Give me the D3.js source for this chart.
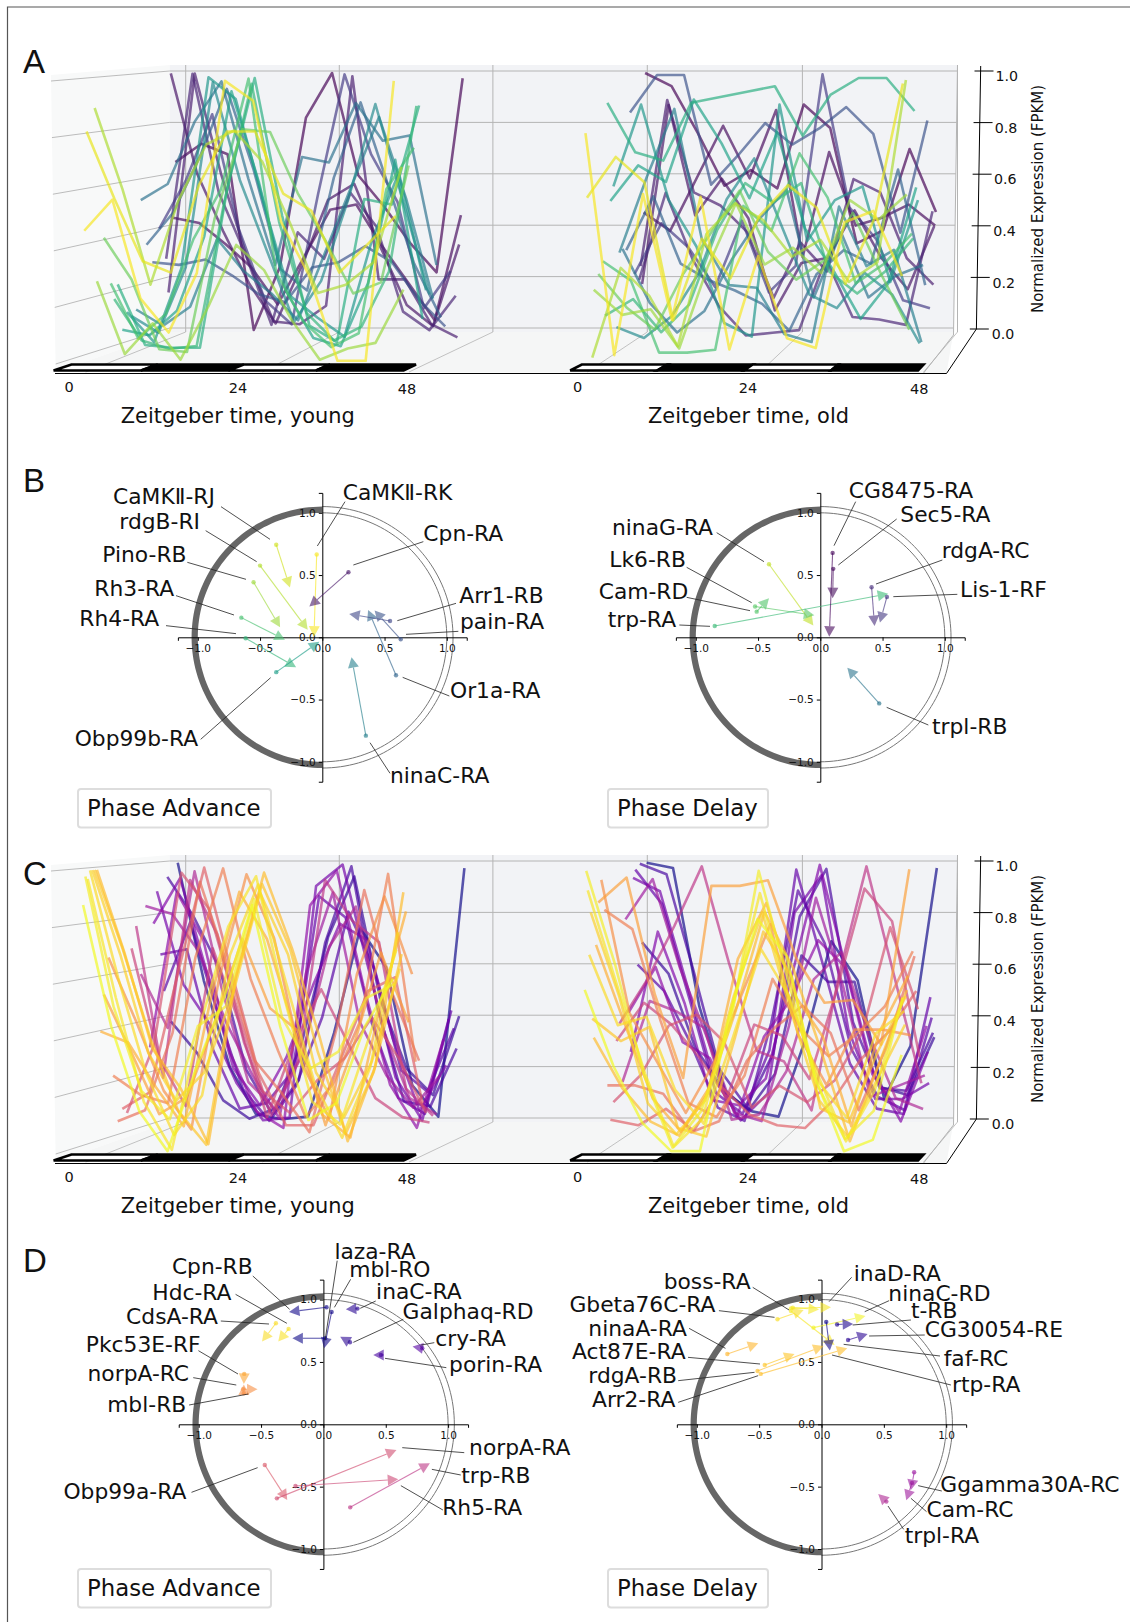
<!DOCTYPE html>
<html lang="en">
<head>
<meta charset="UTF-8">
<title>Phase shifts, young vs old</title>
<script src="https://cdnjs.cloudflare.com/ajax/libs/d3/7.8.5/d3.min.js"></script>
<style>
body { margin: 0; background: #fff; }
text { font-family: "DejaVu Sans", sans-serif; fill: #111; }
.letter { font-family: "Liberation Sans", sans-serif; font-size: 33px; }
</style>
</head>
<body>
<script>
// sampling times of the expression traces
var hours = [2, 6, 10, 14, 18, 22, 26, 30, 34, 38, 42, 46];
var zTicks = [0, 0.2, 0.4, 0.6, 0.8, 1.0];
var timeTicks = [0, 24, 48];
var schedule = [[0, 12, 1], [12, 24, 0], [24, 36, 1], [36, 48, 0]];
var polarTicks = [-1, -0.5, 0, 0.5, 1];

// panel A: gene position along the depth axis, then traces back to front
var depthA = [.80, .78, .76, .74, .72, .66, .60, .55, .50, .46, .42, .38, .34, .30, .27, .24, .18, .12, .10, .03, .01];
var youngA = [
  [.66, .73, .69, .02, .26, .83, 1.0, .61, .49, .35, .24, .98],
  [.45, .43, .35, .26, .12, .30, .48, .50, .34, .20, .06, .46],
  [1.0, .62, .40, .20, .05, .27, .52, .58, .34, .12, .04, .35],
  [.17, 1.0, .62, .30, .06, .05, .12, .99, .22, .22, .05, .0],
  [.30, 1.0, .55, .32, .05, .40, .30, .55, .42, .10, .03, .16],
  [.42, .60, .85, .42, .15, .06, .55, 1.0, .70, .52, .12, .26],
  [.30, .29, .31, .25, .18, .15, .28, .30, .36, .30, .16, .06],
  [.37, .49, .70, .95, .65, .28, .20, .62, .90, .60, .30, .10],
  [.54, .60, .83, .98, .62, .30, .70, .68, .90, .76, .78, .30],
  [.14, .08, .15, .40, .28, .20, .10, .35, .60, .85, .55, .18],
  [.12, .06, .30, .98, .62, .36, .10, .25, .55, .90, .55, .20],
  [.14, .03, .30, 1.0, .92, .55, .20, .12, .05, .40, .65, .22],
  [.08, .06, .15, .42, .95, .62, .22, .05, .02, .25, .70, .12],
  [.25, .03, .02, .02, .60, 1.0, .50, .10, .04, .56, .54, .90],
  [.20, .05, .02, .03, .55, .98, .48, .15, .05, .10, .30, .90],
  [.26, .06, .15, .42, .60, 1.0, .30, .12, .03, .08, .60, .75],
  [.43, .28, .03, .02, .50, .82, .81, .59, .42, .23, .27, .69],
  [.28, .02, .13, .0, .19, .41, .32, .14, .0, .04, .06, .25],
  [.90, .61, .27, .57, .77, .82, .71, .49, .24, .27, .35, .69],
  [.82, .58, .36, .32, .63, .82, .82, .60, .54, .32, .42, .52],
  [.47, .58, .23, .11, .32, 1.0, .93, .50, .31, .01, .01, 1.0]
];
var oldA = [
  [1.0, .95, .77, .57, .63, .56, .88, .79, .35, .40, .71, .47],
  [.47, .40, .60, .80, .60, .86, .30, .70, .42, .45, .50, .42],
  [.20, .88, .46, .60, .45, .10, .28, .30, .48, .30, .18, .42],
  [.27, .90, .55, .50, .40, .15, .36, .25, .60, .55, .30, .20],
  [.22, .55, .30, .12, .01, .02, .03, .30, .08, .07, .05, .48],
  [.25, .44, .35, .20, .45, .18, .28, 1.0, .50, .38, .15, .12],
  [.86, 1.0, 1.0, .59, .70, .82, .74, .80, .88, .78, .41, .83],
  [.35, .55, .30, .24, .20, .15, .05, .26, .35, .30, .65, .22],
  [.36, .16, .05, .13, .32, .47, .58, .18, .42, .18, .26, .30],
  [.35, .63, .88, .40, .23, .22, .05, .02, .52, .30, .36, .02],
  [.08, .04, .12, .28, .55, .70, .45, .20, .15, .28, .20, .02],
  [.60, .90, .55, .38, .10, .05, .90, .40, .55, .60, .25, .55],
  [.55, .68, .62, .92, .76, .56, .80, .45, .30, .12, .25, .60],
  [.91, .73, .70, .91, .93, .95, .97, .79, .94, 1.0, 1.0, .88],
  [.14, .20, .08, .18, .45, .62, .55, .62, .30, .22, .30, .42],
  [.34, .27, .01, .01, .02, .54, .45, .73, .57, .26, .33, .44],
  [.30, .18, .10, .30, .45, .60, .38, .28, .35, .52, .30, .10],
  [.25, .16, .18, .04, .33, .56, .34, .40, .31, .57, .50, .59],
  [.01, .33, .23, .05, .45, .56, .50, .37, .43, .28, .35, 1.0],
  [.585, .73, .64, .15, .44, .30, .52, .63, .55, .28, .51, .99],
  [.815, .03, .60, .155, .59, .05, .38, .09, .055, .50, .54, .31]
];

// panel C: strongly rhythmic genes, back to front
var depthC = [.82, .76, .73, .70, .67, .64, .61, .58, .54, .50, .46, .42, .38, .34, .30, .26, .22, .18, .15, .12, .10, .08, .06, .04, .02, .0];
var youngC = [
  [1.0, .55, .22, .04, .02, .03, .35, .75, .60, .15, .03, .98],
  [.40, .28, .10, .03, .07, .32, .72, .95, .48, .22, .12, .42],
  [.95, .80, .60, .22, .05, .18, .70, .99, .45, .10, .08, .30],
  [.52, .78, .45, .15, .03, .16, .42, .82, .60, .22, .14, .38],
  [.66, .68, .30, .08, .10, .22, .88, .80, .40, .12, .06, .45],
  [.90, .55, .40, .18, .04, .05, .92, 1.0, .60, .20, .04, .42],
  [.78, .95, .60, .24, .10, .28, .55, .78, .72, .35, .08, .25],
  [.32, .90, .72, .30, .08, .02, .85, .98, .55, .18, .02, .35],
  [.85, .82, .68, .42, .22, .06, .60, .90, .42, .22, .10, .22],
  [.60, .40, .98, .55, .20, .10, .30, .70, .85, .40, .14, .08],
  [.78, .22, .95, .75, .35, .08, .28, .95, .80, .72, .18, .08],
  [.70, .30, .12, .70, .42, .08, .35, .55, .35, .15, .08, .06],
  [.10, .35, .98, .85, .50, .18, .10, .22, .30, .45, .30, .10],
  [.12, .18, .60, 1.0, .62, .25, .06, .06, .30, .55, .60, .14],
  [.08, .12, .40, .95, .65, .30, .18, .04, .42, .92, .55, .30],
  [.25, .18, .15, .68, 1.0, .60, .34, .10, .22, .45, .98, .30],
  [.68, .45, .20, .06, .60, .98, .75, .30, .10, .62, .90, .62],
  [.55, .34, .12, .18, .45, .75, .50, .42, .08, .36, .70, .45],
  [.42, .38, .22, .08, .55, .92, .75, .42, .12, .04, .48, .85],
  [1.0, .70, .36, .22, .02, .62, .99, .72, .40, .03, .30, .92],
  [1.0, .72, .40, .14, .02, .60, .95, .72, .35, .06, .28, .70],
  [1.0, .70, .35, .18, .28, .55, .92, .70, .28, .12, .32, .65],
  [1.0, .62, .28, .06, .20, .70, .95, .60, .25, .05, .30, .78],
  [.97, .55, .18, .01, .45, .80, .98, .55, .18, .10, .40, .72],
  [.98, .52, .22, .12, .45, .52, .90, .48, .30, .36, .55, .60],
  [.88, .45, .15, .01, .30, .55, .88, .45, .12, .18, .45, .62]
];
var oldC = [
  [1.0, .98, .45, .12, .05, .03, .32, .70, .55, .10, .30, .98],
  [.70, .58, .30, .15, .06, .20, .65, .55, .55, .15, .12, .34],
  [1.0, .96, .60, .22, .08, .28, .80, .98, .40, .15, .14, .36],
  [.62, .52, .32, .08, .03, .40, .90, .70, .30, .12, .07, .42],
  [.98, .85, .50, .14, .06, .30, .98, .62, .25, .08, .06, .50],
  [.95, .90, .55, .20, .04, .14, .82, .96, .38, .12, .12, .18],
  [.30, .75, .48, .12, .10, .20, .60, 1.0, .60, .22, .04, .30],
  [.45, .62, .34, .28, .06, .36, .50, .72, .62, .22, .08, .40],
  [.80, .95, .62, .36, .08, .05, .40, .88, .55, .14, .18, .22],
  [.20, .50, .46, .40, .06, .08, .24, .58, .68, .38, .14, .10],
  [.42, .58, .78, 1.0, .64, .32, .28, .10, .60, 1.0, .60, .20],
  [.36, .50, .42, .30, .15, .42, .38, .22, .55, .92, .80, .30],
  [.14, .24, .42, .46, .36, .12, .20, .14, .22, .40, .78, .48],
  [.08, .06, .12, .04, .20, .10, .06, .05, .15, .30, .40, .55],
  [.21, .21, .18, .04, .08, .30, .42, .50, .40, .12, .35, .68],
  [.85, .78, .45, .15, .10, .25, .60, .42, .32, .40, .50, .70],
  [.96, .48, .30, .12, .30, .55, .80, .40, .22, .42, .42, .40],
  [.88, .97, .55, .25, .94, .94, .96, .68, .52, .53, .37, 1.0],
  [.73, .45, .18, .06, .22, .68, .88, .55, .40, .08, .42, .62],
  [.40, .22, .10, .05, .20, .50, .85, .65, .35, .03, .30, .57],
  [.47, .39, .44, .08, .05, .40, .78, .62, .15, .10, .35, .55],
  [.85, .55, .17, .06, .18, .55, .85, .50, .18, .05, .25, .45],
  [.70, .45, .48, .22, .10, .40, .72, .55, .25, .12, .42, .50],
  [.93, .60, .28, .02, .12, .50, .92, .55, .28, .04, .22, .55],
  [1.0, .67, .28, .02, .15, .45, 1.0, .62, .25, .05, .15, .55],
  [.58, .31, .11, .01, .01, .48, .83, .70, .27, .01, .05, .35]
];

// polar panels: gene, start x, start y, end x, end y
var arrowsBAdvance = [
  ["CaMKⅡ-RJ", -.37, .743, -.26, .40],
  ["CaMKⅡ-RK", -.045, .665, -.067, .005],
  ["rdgB-RI", -.50, .576, -.117, .06],
  ["Pino-RB", -.552, .442, -.339, .08],
  ["Rh3-RA", -.65, .158, -.30, -.02],
  ["Rh4-RA", -.616, -.008, -.21, -.24],
  ["Obp99b-RA", -.37, -.28, -.024, -.035],
  ["ninaC-RA", .35, -.79, .235, -.16],
  ["Or1a-RA", .592, -.305, .368, .22],
  ["pain-RA", .63, -.016, .42, .215],
  ["Arr1-RB", .544, .131, .216, .188],
  ["Cpn-RA", .21, .523, -.104, .247]
];
var arrowsBDelay = [
  ["ninaG-RA", -.412, .587, -.056, .094],
  ["Lk6-RB", -.511, .206, -.412, .314],
  ["Cam-RD", -.524, .247, -.048, .177],
  ["trp-RA", -.848, .091, .545, .349],
  ["trpl-RB", .473, -.531, .217, -.244],
  ["Lis-1-RF", .535, .324, .479, .118],
  ["rdgA-RC", .412, .402, .436, .091],
  ["Sec5-RA", .104, .55, .099, .314],
  ["CG8475-RA", .099, .678, .072, .005]
];
var arrowsDAdvance = [
  ["CdsA-RA", -.381, .81, -.492, .663],
  ["Hdc-RA", -.279, .765, -.362, .663],
  ["Pkc53E-RF", -.635, .404, -.638, .324],
  ["norpA-RC", -.638, .249, -.638, .32],
  ["mbl-RB", -.644, .281, -.528, .281],
  ["Obp99a-RA", -.47, -.326, -.29, -.607],
  ["Rh5-RA", -.224, -.495, .60, -.441],
  ["norpA-RA", -.373, -.594, .586, -.206],
  ["trp-RB", .215, -.666, .854, -.313],
  ["cry-RA", .793, .61, .715, .623],
  ["porin-RA", .461, .556, .40, .556],
  ["Galphaq-RD", .213, .658, .135, .703],
  ["inaC-RA", .273, .928, .18, .922],
  ["mbl-RO", .066, .901, .006, .61],
  ["laza-RA", .014, .69, -.249, .69],
  ["Cpn-RB", .025, .939, -.276, .901]
];
var arrowsDDelay = [
  ["inaD-RA", -.23, .936, -.02, .92],
  ["boss-RA", -.245, .93, .076, .939],
  ["ninaC-RD", -.064, .775, .353, .869],
  ["faf-RC", -.245, .909, .105, .636],
  ["Gbeta76C-RA", -.353, .842, -.143, .917],
  ["Arr2-RA", -.487, .404, .207, .61],
  ["rdgA-RB", -.513, .428, .017, .628],
  ["Act87E-RA", -.455, .476, -.216, .564],
  ["ninaA-RA", -.755, .564, -.507, .65],
  ["trpl-RA", .52, -.62, .455, -.559],
  ["Cam-RC", .726, -.47, .68, -.61],
  ["Ggamma30A-RC", .743, -.385, .717, -.527],
  ["CG30054-RE", .213, .676, .37, .725],
  ["t-RB", .125, .80, .254, .805],
  ["rtp-RA", .038, .821, .067, .591]
];

// label placement in crop units from the panel origin: text x, text y, leader x1 y1 x2 y2
var labelsBAdvance = {
  "CaMKⅡ-RJ": [219, 109, 543, 140, 690, 238], "CaMKⅡ-RK": [908, 95, 915, 125, 832, 258],
  "rdgB-RI": [238, 183, 497, 212, 650, 305], "Cpn-RA": [1150, 220, 1150, 245, 940, 315],
  "Pino-RB": [187, 283, 442, 307, 618, 358], "Rh3-RA": [163, 383, 408, 407, 582, 465],
  "Arr1-RB": [1258, 404, 1248, 430, 1072, 482], "pain-RA": [1260, 484, 1255, 514, 1098, 523],
  "Rh4-RA": [118, 475, 378, 497, 588, 521], "Or1a-RA": [1230, 691, 1228, 708, 1088, 652],
  "Obp99b-RA": [104, 833, 482, 838, 692, 653], "ninaC-RA": [1050, 946, 1050, 940, 990, 848]
};
var labelsBDelay = {
  "CG8475-RA": [806, 90, 827, 125, 762, 257], "Sec5-RA": [961, 161, 950, 177, 775, 315],
  "ninaG-RA": [96, 200, 410, 218, 552, 305], "rdgA-RC": [1085, 270, 1087, 300, 888, 372],
  "Lk6-RB": [88, 296, 320, 322, 515, 428], "Lis-1-RF": [1140, 386, 1132, 403, 940, 410],
  "Cam-RD": [56, 392, 320, 412, 510, 452], "trp-RA": [83, 476, 298, 495, 390, 499],
  "trpl-RB": [1056, 798, 1045, 795, 920, 742]
};
var labelsDAdvance = {
  "laza-RA": [855, 63, 863, 92, 828, 330], "mbl-RO": [898, 116, 902, 148, 855, 232],
  "Cpn-RB": [383, 108, 618, 138, 725, 238], "Hdc-RA": [326, 186, 568, 193, 717, 280],
  "inaC-RA": [976, 184, 975, 213, 930, 235], "CdsA-RA": [250, 258, 525, 273, 665, 282],
  "Galphaq-RD": [1053, 243, 1055, 268, 910, 337], "cry-RA": [1148, 323, 1145, 338, 1107, 345],
  "Pkc53E-RF": [133, 341, 460, 362, 575, 432], "porin-RA": [1188, 403, 1180, 413, 1002, 385],
  "norpA-RC": [138, 430, 445, 443, 570, 465], "mbl-RB": [195, 523, 433, 525, 605, 492],
  "norpA-RA": [1246, 651, 1232, 668, 1052, 653], "trp-RB": [1223, 735, 1222, 735, 1138, 718],
  "Obp99a-RA": [68, 783, 440, 787, 632, 713], "Rh5-RA": [1168, 830, 1170, 840, 1048, 767]
};
var labelsDDelay = {
  "inaD-RA": [808, 128, 802, 142, 740, 215], "boss-RA": [285, 153, 530, 172, 630, 240],
  "ninaC-RD": [903, 188, 905, 212, 838, 245], "Gbeta76C-RA": [26, 223, 437, 242, 590, 262],
  "t-RB": [965, 241, 965, 270, 805, 285], "ninaA-RA": [78, 293, 355, 295, 455, 355],
  "CG30054-RE": [1003, 296, 1003, 315, 850, 318], "Act87E-RA": [33, 363, 352, 382, 550, 402],
  "faf-RC": [1055, 383, 1045, 378, 780, 343], "rdgA-RB": [78, 435, 325, 452, 535, 427],
  "rtp-RA": [1078, 463, 1075, 465, 748, 375], "Arr2-RA": [88, 506, 325, 517, 545, 437],
  "Ggamma30A-RC": [1046, 761, 1050, 783, 985, 767], "Cam-RC": [1008, 838, 1008, 845, 965, 805],
  "trpl-RA": [948, 916, 945, 898, 902, 828]
};

var svg = d3.select("body").append("svg").attr("width", 1130).attr("height", 1622);

// frame around the figure, open on the right
svg.append("path").attr("d", "M1130,7H7.5V1622").attr("fill", "none").attr("stroke", "#555").attr("stroke-width", 1.2);

function lerp(a, b, f) { return a + (b - a) * f; }

var yFront = d3.scaleLinear().domain([0, 1]).range([364, 81]);
var yBack = d3.scaleLinear().domain([0, 1]).range([328, 71]);

function drawWalls(g) {
  g.append("polygon").attr("points", "51,75 169.6,65 169.6,332 55.7,372").attr("fill", "#f8f9f9");
  g.append("polygon").attr("points", "55.7,372 169.6,332 953.5,332 946.5,373").attr("fill", "#f5f6f6");
  g.append("polygon").attr("points", "169.6,65 957.5,65 953.5,332 169.6,332").attr("fill", "#f2f3f6");
  zTicks.forEach(function(v) {
    g.append("line").attr("x1", lerp(55.7, 51, v)).attr("y1", yFront(v)).attr("x2", 169.6).attr("y2", yBack(v))
      .attr("stroke", "#b4b4b4").attr("stroke-width", 0.9);
    g.append("line").attr("x1", 169.6).attr("y1", yBack(v)).attr("x2", lerp(953.5, 957.5, v)).attr("y2", yBack(v))
      .attr("stroke", "#b4b4b4").attr("stroke-width", 1);
  });
}

function drawTimePlot(g, opt, depths, series, colormap) {
  // traces sit between a front and a back plane of the box
  var xFront = d3.scaleLinear().domain([0, 48]).range(opt.front);
  var xBack = d3.scaleLinear().domain([0, 48]).range(opt.back);
  timeTicks.forEach(function(t, i) {
    g.append("line").attr("x1", xBack(t)).attr("y1", 65).attr("x2", xBack(t)).attr("y2", 332)
      .attr("stroke", "#b4b4b4").attr("stroke-width", 1);
    g.append("line").attr("x1", opt.floor[i]).attr("y1", 372).attr("x2", xBack(t)).attr("y2", 332)
      .attr("stroke", "#b4b4b4").attr("stroke-width", 0.8);
    g.append("text").attr("x", opt.tickX[i]).attr("y", 387 + i).attr("dy", ".36em")
      .attr("text-anchor", "middle").attr("font-size", 14.5).text(t);
  });
  // light/dark schedule bar
  var barTop = d3.scaleLinear().domain([0, 48]).range(opt.barTop);
  var barBottom = d3.scaleLinear().domain([0, 48]).range(opt.barBottom);
  schedule.forEach(function(s) {
    var pts = [[barTop(s[0]), 364.5], [barTop(s[1]), 364.5], [barBottom(s[1]), 370.5], [barBottom(s[0]), 370.5]];
    g.append("polygon").attr("points", pts.join(" ")).attr("fill", s[2] ? "#fff" : "#000")
      .attr("stroke", "#000").attr("stroke-width", 2.6);
  });
  var maxDepth = d3.max(depths);
  series.forEach(function(vals, i) {
    var d = depths[i];
    var line = d3.line()
      .x(function(v, k) { return lerp(xFront(hours[k]), xBack(hours[k]), d); })
      .y(function(v) { return lerp(yFront(v), yBack(v), d); });
    g.append("path").datum(vals).attr("d", line).attr("fill", "none")
      .attr("stroke", colormap(1 - d / maxDepth)).attr("stroke-opacity", 0.68)
      .attr("stroke-width", 2.6).attr("stroke-linejoin", "round");
  });
  g.append("text").attr("x", opt.titleX).attr("y", 417).attr("dy", ".3em").attr("font-size", 20.9).text(opt.title);
}

function drawZAxis(g) {
  var zY = d3.scaleLinear().domain([0, 1]).range([329, 71]);
  g.append("path").attr("d", "M957.5,65L953.5,335L923.6,373").attr("fill", "none").attr("stroke", "#b4b4b4");
  g.append("path").attr("d", "M980.7,66L976.4,329L946.5,373.5H55").attr("fill", "none").attr("stroke", "#000").attr("stroke-width", 1);
  zTicks.forEach(function(v) {
    var x0 = lerp(969.8, 974.5, v);
    g.append("line").attr("x1", x0).attr("x2", x0 + 19).attr("y1", zY(v)).attr("y2", zY(v)).attr("stroke", "#000");
    g.append("text").attr("x", lerp(991.7, 995.4, v)).attr("y", zY(v) + 5).attr("dy", ".36em")
      .attr("font-size", 14.2).text(v.toFixed(1));
  });
  g.append("text").attr("transform", "translate(1038,199) rotate(-90)").attr("text-anchor", "middle")
    .attr("dy", ".36em").attr("font-size", 15).text("Normalized Expression (FPKM)");
}

// colours follow rank along the cycle, which is not quite even in phase
var phaseToColour = d3.scaleLinear().domain([0, .14, .18, .25, .35, .57, 1]).range([1, .86, .74, .66, .56, .43, 0]);

function drawPolar(opt, arrows, labels, colormap) {
  var g = svg.append("g");
  var x = d3.scaleLinear().domain([-1, 1]).range([opt.cx - opt.unit, opt.cx + opt.unit]);
  var y = d3.scaleLinear().domain([-1, 1]).range([opt.cy + opt.unit, opt.cy - opt.unit]);
  function ring(r, a0, a1) {
    return d3.range(a0, a1 + 0.01, 2).map(function(a) {
      var t = a * Math.PI / 180;
      return [x(r * Math.cos(t)), y(r * Math.sin(t))];
    });
  }
  // outer band: filled over the left half only
  var rim = 1.05;
  var lineGen = d3.line();
  g.append("path").attr("d", lineGen(ring(1, 90, 270).concat(ring(rim, 90, 270).reverse())) + "Z").attr("fill", "#666");
  g.append("path").attr("d", lineGen(ring(1, -90, 90))).attr("fill", "none").attr("stroke", "#777").attr("stroke-width", 1);
  g.append("path").attr("d", lineGen(ring(rim, -90, 90))).attr("fill", "none").attr("stroke", "#777").attr("stroke-width", 1);

  var span = 1.16;
  var xAxisScale = d3.scaleLinear().domain([-span, span]).range([x(-span), x(span)]);
  var yAxisScale = d3.scaleLinear().domain([-span, span]).range([y(-span), y(span)]);
  var fmt = d3.format(".1f");
  var ax = g.append("g").attr("transform", "translate(0," + opt.cy + ")")
    .call(d3.axisBottom(xAxisScale).tickValues(polarTicks).tickFormat(fmt).tickSizeOuter(0).tickSize(3.5).tickPadding(4));
  var ay = g.append("g").attr("transform", "translate(" + opt.cx + ",0)")
    .call(d3.axisLeft(yAxisScale).tickValues(polarTicks).tickFormat(fmt).tickSizeOuter(0).tickSize(3.5).tickPadding(3));
  [ax, ay].forEach(function(a) {
    a.selectAll("text").attr("font-size", 10.5).style("font-family", "DejaVu Sans").attr("fill", "#222");
    a.selectAll("line,path").attr("stroke", "#000").attr("stroke-width", 1);
  });

  arrows.forEach(function(a) {
    var x0 = x(a[1]), y0 = y(a[2]), x1 = x(a[3]), y1 = y(a[4]);
    var phase = ((Math.atan2(a[2], a[1]) * 180 / Math.PI - 90) + 720) % 360 / 360;
    var col = colormap(phaseToColour(phase));
    var dx = x1 - x0, dy = y1 - y0, len = Math.sqrt(dx * dx + dy * dy) || 1;
    var ux = dx / len, uy = dy / len, hl = 10.5, hw = 5.5;
    var bx = x1 - ux * hl, by = y1 - uy * hl;
    g.append("line").attr("x1", x0).attr("y1", y0).attr("x2", bx).attr("y2", by)
      .attr("stroke", col).attr("stroke-opacity", 0.65).attr("stroke-width", 1.1);
    g.append("circle").attr("cx", x0).attr("cy", y0).attr("r", 2.2).attr("fill", col).attr("fill-opacity", 0.65);
    g.append("polygon").attr("points", [[x1, y1], [bx - uy * hw, by + ux * hw], [bx + uy * hw, by - ux * hw]].join(" "))
      .attr("fill", col).attr("fill-opacity", 0.6);
  });

  Object.keys(labels).forEach(function(name) {
    var p = labels[name];
    g.append("line").attr("x1", opt.ox + p[2] / opt.kx).attr("y1", opt.oy + p[3] / 3)
      .attr("x2", opt.ox + p[4] / opt.kx).attr("y2", opt.oy + p[5] / 3)
      .attr("stroke", "#222").attr("stroke-width", 0.8);
    g.append("text").attr("x", opt.ox + p[0] / opt.kx).attr("y", opt.oy + p[1] / 3).attr("dy", ".36em")
      .attr("font-size", 21.8).text(name);
  });

  g.append("rect").attr("x", opt.box[0]).attr("y", opt.box[1]).attr("width", opt.box[2]).attr("height", 38.5)
    .attr("rx", 3).attr("fill", "#fff").attr("stroke", "#ddd").attr("stroke-width", 2);
  g.append("text").attr("x", opt.box[0] + 9).attr("y", opt.box[1] + 19).attr("dy", ".36em")
    .attr("font-size", 22.8).text(opt.title);
}

function panel3d(offset, depths, young, old, colormap) {
  var g = svg.append("g").attr("transform", "translate(0," + offset + ")");
  drawWalls(g);
  drawTimePlot(g, {
    front: [69, 407], back: [185.7, 492.9], floor: [85.7, 262.5, 409],
    tickX: [69, 237.9, 407], barTop: [71.4, 416], barBottom: [53.6, 403.6],
    titleX: 120.8, title: "Zeitgeber time, young"
  }, depths, young, colormap);
  drawTimePlot(g, {
    front: [570.3, 916], back: [647.3, 957.5], floor: [587.3, 760, 923.6],
    tickX: [577.5, 748, 919.3], barTop: [581.8, 923.6], barBottom: [570.2, 918],
    titleX: 648, title: "Zeitgeber time, old"
  }, depths, old, colormap);
  drawZAxis(g);
}

panel3d(0, depthA, youngA, oldA, d3.interpolateViridis);
panel3d(790, depthC, youngC, oldC, d3.interpolatePlasma);

drawPolar({ cx: 322.3, cy: 637.3, unit: 124.5, ox: 40, oy: 460, kx: 3, box: [78, 789, 193], title: "Phase Advance" }, arrowsBAdvance, labelsBAdvance, d3.interpolateViridis);
drawPolar({ cx: 820.3, cy: 637.3, unit: 124.5, ox: 580, oy: 460, kx: 3, box: [608, 789, 160], title: "Phase Delay" }, arrowsBDelay, labelsBDelay, d3.interpolateViridis);
drawPolar({ cx: 323.4, cy: 1424.3, unit: 124.7, ox: 40, oy: 1230, kx: 2.904, box: [78, 1569, 193], title: "Phase Advance" }, arrowsDAdvance, labelsDAdvance, d3.interpolatePlasma);
drawPolar({ cx: 821.5, cy: 1424.3, unit: 124.7, ox: 560, oy: 1230, kx: 2.75, box: [608, 1569, 160], title: "Phase Delay" }, arrowsDDelay, labelsDDelay, d3.interpolatePlasma);

// panel letters
[["A", 23, 73], ["B", 23, 492], ["C", 23, 885], ["D", 23, 1272]].forEach(function(l) {
  svg.append("text").attr("class", "letter").attr("x", l[1]).attr("y", l[2]).text(l[0]);
});
</script>
</body>
</html>
